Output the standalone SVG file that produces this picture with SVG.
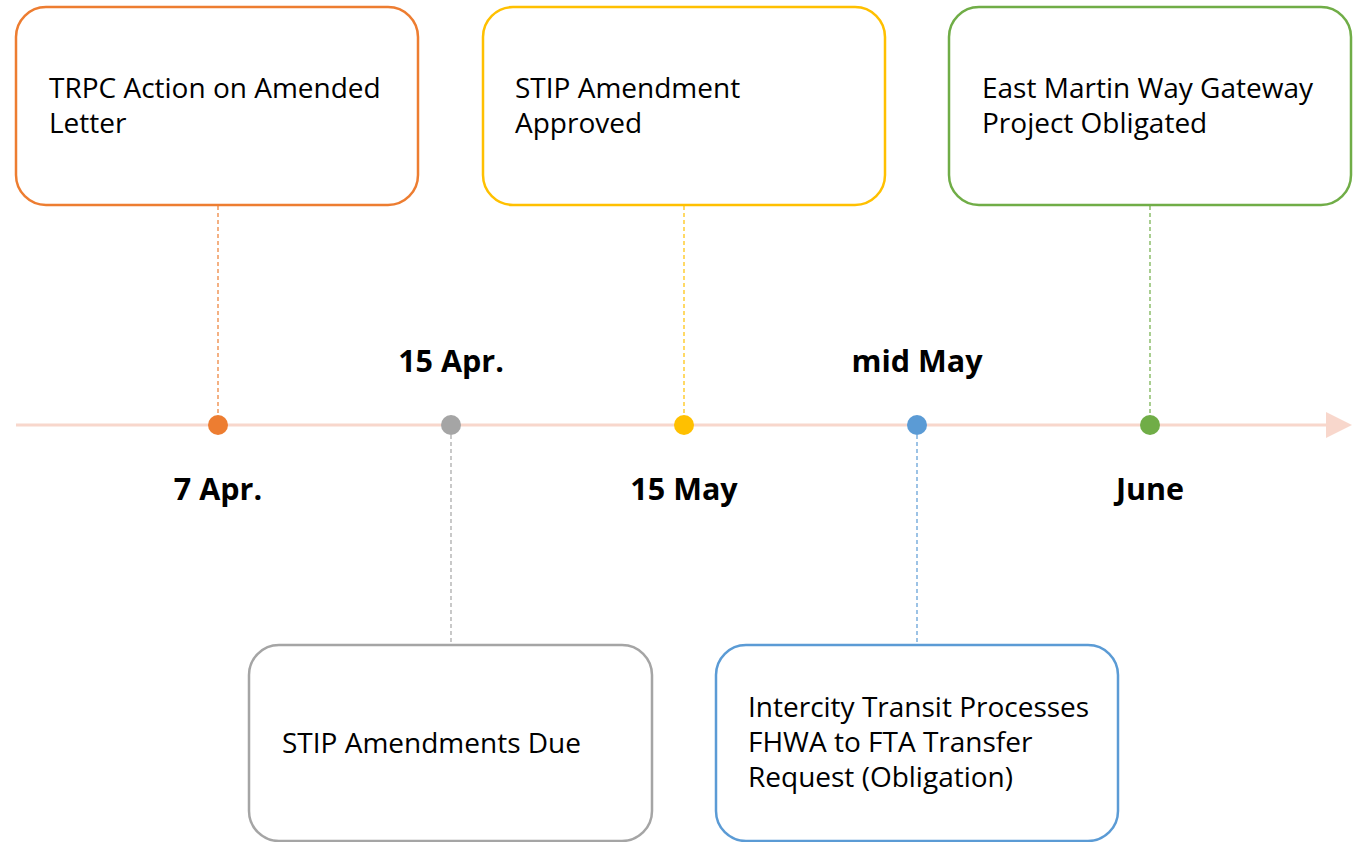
<svg xmlns="http://www.w3.org/2000/svg" width="1360" height="842" viewBox="0 0 1360 842">
<defs>
<style>
.box{fill:#fff;stroke-width:2.5}
.t{font-family:"Open Sans","Liberation Sans",sans-serif;font-size:28px;fill:#000}
.d{font-family:"Open Sans","Liberation Sans",sans-serif;font-size:30.5px;font-weight:bold;fill:#000;text-anchor:middle}
.c{fill:none;stroke-width:1.2;stroke-dasharray:4 3}
</style>
</defs>
<rect width="1360" height="842" fill="#fff"/>
<g id="timeline">
<line x1="16" y1="425" x2="1328" y2="425" stroke="#F8D7CC" stroke-width="3"/>
<polygon points="1326,412 1352,425 1326,438" fill="#F8D7CC"/>
</g>
<g id="connectors">
<line class="c" x1="218" y1="206" x2="218" y2="415" stroke="#ED7D31"/>
<line class="c" x1="451" y1="435" x2="451" y2="644" stroke="#A5A5A5"/>
<line class="c" x1="684" y1="206" x2="684" y2="415" stroke="#FFC000"/>
<line class="c" x1="917" y1="435" x2="917" y2="644" stroke="#5B9BD5"/>
<line class="c" x1="1150" y1="206" x2="1150" y2="415" stroke="#70AD47"/>
</g>
<g id="n1">
<rect class="box" x="16" y="7" width="402" height="198" rx="30" stroke="#ED7D31"/>
<text class="t" x="49" y="98">TRPC Action on Amended</text>
<text class="t" x="49" y="133">Letter</text>
<circle cx="218" cy="425" r="10" fill="#ED7D31"/>
<text class="d" x="218" y="500">7 Apr.</text>
</g>
<g id="n2">
<rect class="box" x="249" y="645" width="403" height="196" rx="30" stroke="#A5A5A5"/>
<text class="t" x="282" y="753">STIP Amendments Due</text>
<circle cx="451" cy="425" r="10" fill="#A5A5A5"/>
<text class="d" x="451" y="372">15 Apr.</text>
</g>
<g id="n3">
<rect class="box" x="483" y="7" width="402" height="198" rx="30" stroke="#FFC000"/>
<text class="t" x="515" y="98">STIP Amendment</text>
<text class="t" x="515" y="133">Approved</text>
<circle cx="684" cy="425" r="10" fill="#FFC000"/>
<text class="d" x="684" y="500">15 May</text>
</g>
<g id="n4">
<rect class="box" x="716" y="645" width="402" height="196" rx="30" stroke="#5B9BD5"/>
<text class="t" x="748" y="717">Intercity Transit Processes</text>
<text class="t" x="748" y="752">FHWA to FTA Transfer</text>
<text class="t" x="748" y="787">Request (Obligation)</text>
<circle cx="917" cy="425" r="10" fill="#5B9BD5"/>
<text class="d" x="917" y="372">mid May</text>
</g>
<g id="n5">
<rect class="box" x="949" y="7" width="402" height="198" rx="30" stroke="#70AD47"/>
<text class="t" x="982" y="98">East Martin Way Gateway</text>
<text class="t" x="982" y="133">Project Obligated</text>
<circle cx="1150" cy="425" r="10" fill="#70AD47"/>
<text class="d" x="1150" y="500">June</text>
</g>
</svg>
